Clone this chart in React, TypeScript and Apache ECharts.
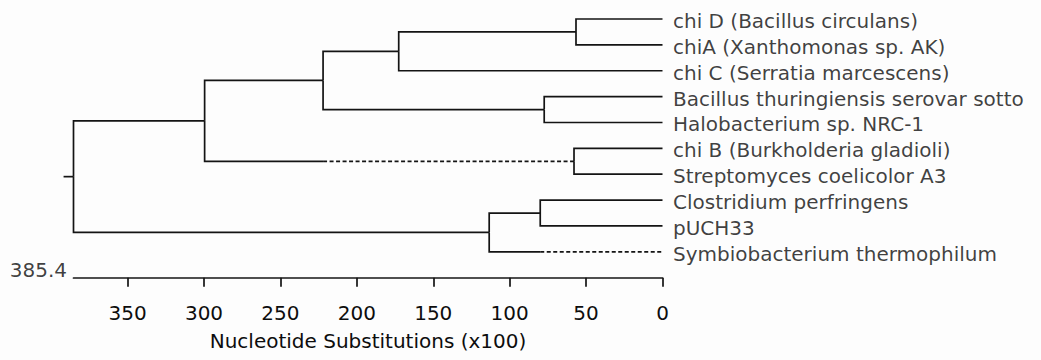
import React, { useEffect, useRef } from "react";
import * as echarts from "echarts";

// Leaves (top to bottom), x = 0 substitutions
const LEAVES = [
  "chi D (Bacillus circulans)",
  "chiA (Xanthomonas sp. AK)",
  "chi C (Serratia marcescens)",
  "Bacillus thuringiensis serovar sotto",
  "Halobacterium sp. NRC-1",
  "chi B (Burkholderia gladioli)",
  "Streptomyces coelicolor A3",
  "Clostridium perfringens",
  "pUCH33",
  "Symbiobacterium thermophilum",
];

// Internal nodes: children (L# = leaf index, n# = node id) and heights (x100 substitutions)
const NODE_IDS = ["n1", "n2", "n3", "n4", "n5", "n6", "n7", "n8", "root"];
const NODE_CHILDREN: [string, string][] = [
  ["L0", "L1"],
  ["n1", "L2"],
  ["L3", "L4"],
  ["n2", "n3"],
  ["L5", "L6"],
  ["n4", "n5"],
  ["L7", "L8"],
  ["n7", "L9"],
  ["n6", "n8"],
];
const NODE_HEIGHTS = [56.6, 172.6, 77.4, 222.1, 57.9, 299.6, 80.0, 113.4, 385.4];

// Branches drawn dashed from this height down to the child
const DASHED_CHILDREN = ["n5", "L9"];
const DASH_FROM = [222.1, 80.0];

const ROOT_STUB = 6.5;
const AXIS_MAX = 385.4;
const TICKS = [0, 50, 100, 150, 200, 250, 300, 350];
const AXIS_NAME = "Nucleotide Substitutions (x100)";
const MAX_LABEL = "385.4";

const FONT = "DejaVu Sans";
const TEXT_COLOR = "#0d0d0d";
const LINE_COLOR = "#141414";

function buildTree() {
  const pos: Record<string, { x: number; y: number }> = {};
  LEAVES.forEach((_, i) => (pos["L" + i] = { x: 0, y: i }));
  NODE_IDS.forEach((id, k) => {
    const [a, b] = NODE_CHILDREN[k];
    pos[id] = { x: NODE_HEIGHTS[k], y: (pos[a].y + pos[b].y) / 2 };
  });
  const lines: any[] = [];
  NODE_IDS.forEach((id, k) => {
    const p = pos[id];
    NODE_CHILDREN[k].forEach((c) => {
      const q = pos[c];
      const di = DASHED_CHILDREN.indexOf(c);
      if (di >= 0) {
        const d = DASH_FROM[di];
        lines.push({ coords: [[p.x, p.y], [p.x, q.y], [d, q.y]] });
        lines.push({
          coords: [[d, q.y], [q.x, q.y]],
          lineStyle: { type: [4, 2.5] },
        });
      } else {
        lines.push({ coords: [[p.x, p.y], [p.x, q.y], [q.x, q.y]] });
      }
    });
  });
  const r = pos["root"];
  lines.push({ coords: [[r.x, r.y], [r.x + ROOT_STUB, r.y]] });
  return lines;
}

export default function App() {
  const ref = useRef<HTMLDivElement>(null);
  useEffect(() => {
    if (!ref.current) return;
    const chart = echarts.init(ref.current, undefined, { renderer: "svg" });
    const text = { fontFamily: FONT, fontSize: 20, color: TEXT_COLOR };
    chart.setOption({
      animation: false,
      backgroundColor: "#fdfdfd",
      grid: { left: 73.5, right: 378.5, top: 19, bottom: 82.3, containLabel: false },
      xAxis: {
        type: "value",
        min: 0,
        max: AXIS_MAX,
        inverse: true,
        position: "bottom",
        splitLine: { show: false },
        axisLine: { show: true, onZero: false, lineStyle: { color: LINE_COLOR, width: 1.7 } },
        axisTick: {
          show: true,
          inside: false,
          length: 9,
          customValues: TICKS,
          lineStyle: { color: LINE_COLOR, width: 1.7 },
        },
        axisLabel: { customValues: TICKS, margin: 25, ...text },
        name: AXIS_NAME,
        nameLocation: "middle",
        nameGap: 53,
        nameTextStyle: text,
      },
      yAxis: { type: "value", min: 0, max: 10, inverse: true, show: false },
      series: [
        {
          type: "lines",
          coordinateSystem: "cartesian2d",
          polyline: true,
          clip: false,
          silent: true,
          lineStyle: { color: LINE_COLOR, width: 1.7, opacity: 1 },
          data: buildTree(),
        },
        {
          type: "scatter",
          clip: false,
          silent: true,
          symbolSize: 1,
          itemStyle: { color: "transparent" },
          label: {
            show: true,
            position: "right",
            distance: 10,
            offset: [0, 2],
            formatter: "{b}",
            ...text,
          },
          data: LEAVES.map((n, i) => ({ name: n, value: [0, i] })),
        },
        {
          type: "scatter",
          clip: false,
          silent: true,
          symbolSize: 1,
          itemStyle: { color: "transparent" },
          label: {
            show: true,
            position: "left",
            distance: 6,
            offset: [0, -8],
            formatter: "{b}",
            ...text,
          },
          data: [{ name: MAX_LABEL, value: [AXIS_MAX, 10] }],
        },
      ],
    });
    return () => chart.dispose();
  }, []);
  return (
    <div
      ref={ref}
      style={{ position: "absolute", left: 0, top: 0, width: 1041, height: 360 }}
    />
  );
}
